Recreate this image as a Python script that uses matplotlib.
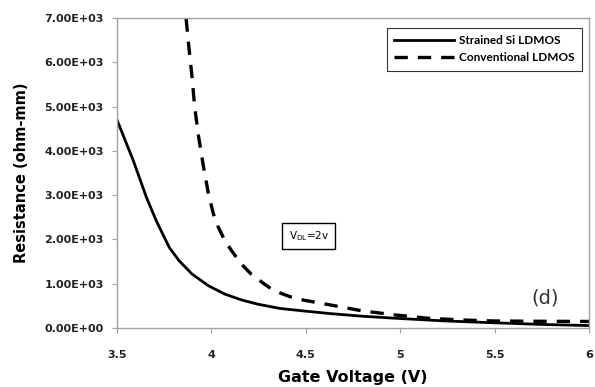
import matplotlib
matplotlib.use("Agg")
import matplotlib.pyplot as plt
from matplotlib.ticker import FixedLocator

# Gate voltage (V) and resistance (ohm-mm)
v_strained = [3.50, 3.542, 3.585, 3.620, 3.655, 3.707, 3.776, 3.828, 3.897, 3.984, 4.071, 4.158,
              4.245, 4.366, 4.50, 4.627, 4.80, 4.974, 5.234, 5.495, 5.755, 6.00]
r_strained = [4700, 4250, 3795, 3380, 2960, 2430, 1825, 1523, 1220, 955, 765, 636,
              538, 440, 380, 326, 266, 220, 160, 118, 80, 55]

v_conv = [3.866, 3.880, 3.897, 3.911, 3.932, 3.958, 3.984, 4.010, 4.036, 4.071, 4.106, 4.158,
          4.210, 4.280, 4.332, 4.418, 4.488, 4.627, 4.80, 4.974, 5.147, 5.321, 5.495, 5.72, 6.00]
r_conv = [6990, 6370, 5689, 5007, 4325, 3643, 3038, 2584, 2280, 1977, 1750, 1447,
          1220, 993, 841, 705, 630, 523, 386, 295, 220, 182, 159, 152, 148]

x_ticks = [3.5, 4, 4.5, 5, 5.5, 6]
x_tick_labels = ["3.5", "4", "4.5", "5", "5.5", "6"]
y_ticks = [0, 1000, 2000, 3000, 4000, 5000, 6000, 7000]

plt.rcParams["font.family"] = ["DejaVu Sans"]

fig = plt.figure(figsize=(5.95, 3.87), dpi=100)
ax = fig.add_axes([117 / 595, 1 - 328 / 387, (589 - 117) / 595, (328 - 18) / 387])

ax.plot(v_strained, r_strained, color="black", lw=2.0, label="Strained Si LDMOS")
ax.plot(v_conv, r_conv, color="black", lw=2.4, ls=(0, (4, 3)), label="Conventional LDMOS")

ax.set_xlim(3.5, 6)
ax.set_ylim(0, 7000)
ax.xaxis.set_major_locator(FixedLocator(x_ticks))
ax.set_xticklabels(x_tick_labels)
ax.yaxis.set_major_locator(FixedLocator(y_ticks))
ax.set_yticklabels([f"{v / 1000:.2f}E+03" if v else "0.00E+00" for v in y_ticks])

for lab in ax.get_xticklabels() + ax.get_yticklabels():
    lab.set_fontweight("bold")
    lab.set_fontsize(8)
    lab.set_color("#222222")

for sp in ax.spines.values():
    sp.set_color("#a0a0a0")
    sp.set_linewidth(1.0)
ax.tick_params(axis="both", direction="out", length=3.5, color="#a0a0a0", width=0.8)
ax.tick_params(axis="x", pad=12)
ax.tick_params(axis="y", pad=6)

ax.set_xlabel("Gate Voltage (V)", fontsize=11.5, fontweight="bold")
ax.set_ylabel("Resistance (ohm-mm)", fontsize=10.5, fontweight="bold")
ax.xaxis.set_label_coords(0.5, -0.135)
ax.yaxis.set_label_coords(-0.187, 0.5)

leg = ax.legend(loc="upper right", bbox_to_anchor=(0.985, 0.968),
                prop={"family": "Lato", "weight": "bold", "size": 8.5},
                frameon=True, fancybox=False, handlelength=5.1, borderpad=0.6,
                labelspacing=0.55, handletextpad=0.45, borderaxespad=0)
leg.get_frame().set_edgecolor("black")
leg.get_frame().set_linewidth(0.8)

ax.text(4.516, 2080, "V$_{\\rm DL}$=2v", fontsize=7.5, ha="center", va="center",
        bbox=dict(boxstyle="square,pad=0.6", fc="white", ec="black", lw=1.0))
ax.text(5.77, 680, "(d)", fontsize=14, ha="center", va="center", color="#333333")

fig.savefig("out.png", dpi=100)
